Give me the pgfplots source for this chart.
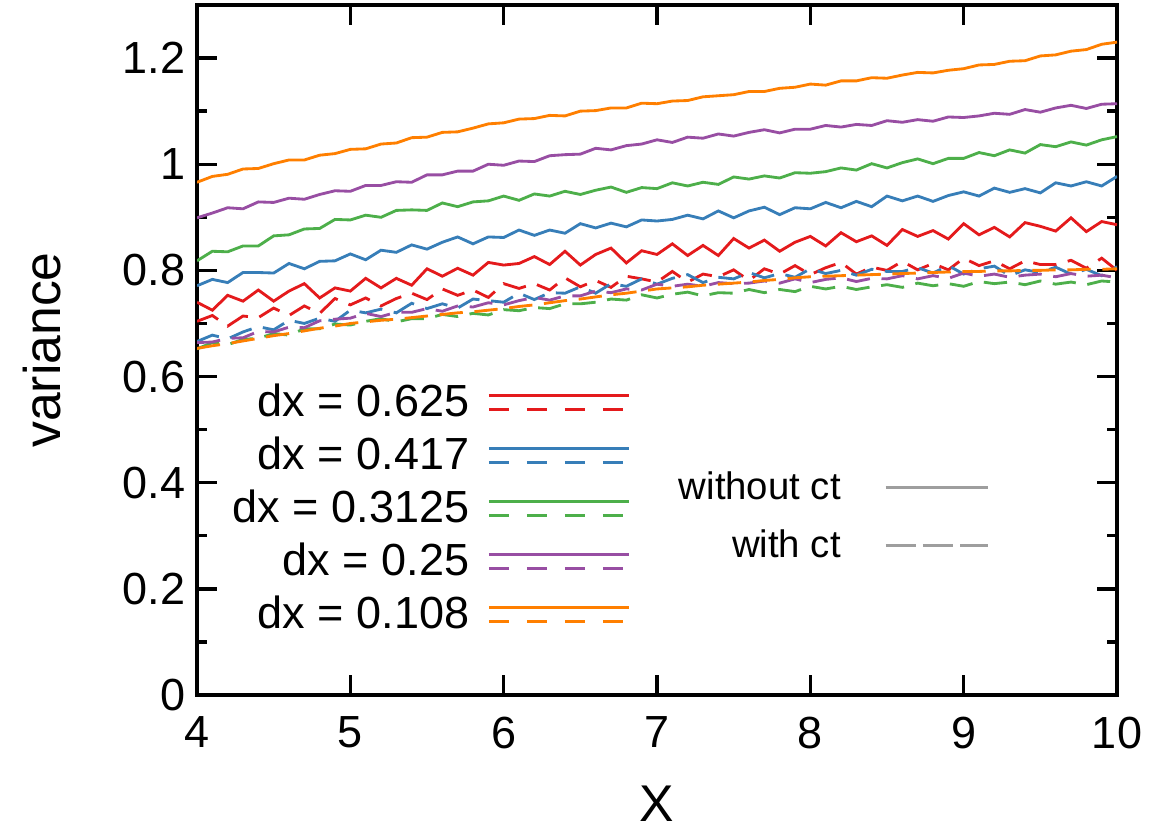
\documentclass[border=0pt]{standalone}
\usepackage{fontspec}
\setmainfont{Liberation Sans}
\usepackage{pgfplots}
\usepackage{pgfplotstable}
\pgfplotsset{compat=1.18}

\definecolor{cRed}{HTML}{E41A1C}
\definecolor{cBlue}{HTML}{377EB8}
\definecolor{cGreen}{HTML}{4DAF4A}
\definecolor{cPurple}{HTML}{984EA3}
\definecolor{cOrange}{HTML}{FF7F00}
\definecolor{cGray}{HTML}{9E9E9E}

\newcommand{\tickfont}{\fontsize{13.5}{16}\selectfont}
\newcommand{\labelfont}{\fontsize{15.5}{18}\selectfont}
\newcommand{\ctfont}{\fontsize{11.5}{14}\selectfont}

% r = dx 0.625, b = 0.417, g = 0.3125, p = 0.25, o = 0.108; 1 = without ct, 2 = with ct
\pgfplotstableread{
x r1 r2 b1 b2 g1 g2 p1 p2 o1 o2
4.0 0.740 0.704 0.771 0.666 0.818 0.652 0.899 0.664 0.966 0.653
4.1 0.725 0.715 0.783 0.678 0.836 0.664 0.908 0.665 0.977 0.658
4.2 0.753 0.695 0.777 0.671 0.835 0.660 0.918 0.672 0.981 0.662
4.3 0.742 0.714 0.796 0.684 0.846 0.670 0.916 0.673 0.991 0.667
4.4 0.763 0.711 0.796 0.694 0.846 0.672 0.929 0.685 0.992 0.672
4.5 0.742 0.729 0.795 0.688 0.865 0.681 0.928 0.684 1.001 0.677
4.6 0.761 0.715 0.813 0.706 0.867 0.678 0.936 0.693 1.008 0.681
4.7 0.775 0.733 0.803 0.700 0.878 0.690 0.934 0.692 1.008 0.686
4.8 0.748 0.719 0.817 0.710 0.879 0.690 0.943 0.705 1.017 0.691
4.9 0.767 0.747 0.818 0.704 0.896 0.699 0.950 0.708 1.020 0.695
5.0 0.761 0.735 0.831 0.725 0.895 0.697 0.949 0.710 1.028 0.700
5.1 0.785 0.748 0.820 0.720 0.904 0.704 0.960 0.719 1.029 0.703
5.2 0.767 0.733 0.838 0.727 0.900 0.709 0.960 0.713 1.038 0.706
5.3 0.785 0.747 0.834 0.720 0.913 0.703 0.967 0.721 1.040 0.708
5.4 0.772 0.757 0.848 0.738 0.914 0.709 0.966 0.721 1.050 0.711
5.5 0.803 0.745 0.840 0.728 0.913 0.709 0.980 0.728 1.051 0.714
5.6 0.789 0.765 0.853 0.737 0.927 0.717 0.980 0.723 1.060 0.717
5.7 0.804 0.753 0.863 0.729 0.920 0.713 0.987 0.733 1.061 0.720
5.8 0.791 0.763 0.850 0.746 0.929 0.719 0.987 0.731 1.068 0.722
5.9 0.815 0.749 0.863 0.743 0.931 0.716 1.000 0.739 1.076 0.725
6.0 0.810 0.775 0.862 0.740 0.940 0.726 0.998 0.735 1.078 0.728
6.1 0.813 0.766 0.876 0.757 0.932 0.724 1.006 0.743 1.085 0.732
6.2 0.826 0.775 0.866 0.745 0.944 0.730 1.005 0.749 1.086 0.735
6.3 0.811 0.763 0.876 0.758 0.940 0.728 1.016 0.744 1.092 0.739
6.4 0.836 0.786 0.870 0.757 0.949 0.737 1.018 0.752 1.091 0.743
6.5 0.810 0.769 0.888 0.769 0.943 0.737 1.019 0.752 1.100 0.746
6.6 0.830 0.781 0.880 0.757 0.951 0.740 1.030 0.761 1.101 0.750
6.7 0.842 0.768 0.889 0.775 0.957 0.746 1.027 0.758 1.106 0.754
6.8 0.814 0.789 0.882 0.770 0.947 0.744 1.035 0.765 1.106 0.757
6.9 0.837 0.784 0.895 0.784 0.956 0.754 1.038 0.763 1.115 0.761
7.0 0.830 0.778 0.893 0.774 0.954 0.748 1.046 0.774 1.114 0.765
7.1 0.850 0.798 0.896 0.785 0.965 0.755 1.041 0.770 1.119 0.767
7.2 0.828 0.778 0.904 0.792 0.959 0.759 1.051 0.774 1.120 0.769
7.3 0.847 0.793 0.897 0.777 0.966 0.752 1.049 0.770 1.127 0.772
7.4 0.828 0.788 0.912 0.787 0.962 0.758 1.057 0.777 1.129 0.774
7.5 0.860 0.801 0.899 0.784 0.976 0.757 1.053 0.775 1.131 0.776
7.6 0.842 0.781 0.912 0.796 0.972 0.764 1.060 0.776 1.137 0.778
7.7 0.857 0.803 0.919 0.786 0.978 0.758 1.065 0.780 1.137 0.781
7.8 0.836 0.793 0.905 0.794 0.974 0.764 1.059 0.776 1.143 0.783
7.9 0.853 0.809 0.918 0.787 0.984 0.760 1.066 0.784 1.145 0.786
8.0 0.864 0.792 0.916 0.803 0.983 0.770 1.066 0.777 1.151 0.788
8.1 0.846 0.805 0.928 0.794 0.986 0.765 1.073 0.783 1.149 0.789
8.2 0.871 0.815 0.918 0.800 0.993 0.770 1.070 0.786 1.157 0.790
8.3 0.854 0.793 0.930 0.791 0.989 0.764 1.075 0.779 1.157 0.791
8.4 0.865 0.806 0.920 0.802 1.001 0.769 1.073 0.785 1.163 0.792
8.5 0.847 0.800 0.940 0.798 0.993 0.773 1.082 0.784 1.162 0.793
8.6 0.877 0.817 0.931 0.798 1.003 0.768 1.079 0.790 1.168 0.794
8.7 0.864 0.801 0.940 0.805 1.010 0.776 1.084 0.784 1.173 0.795
8.8 0.875 0.813 0.930 0.795 1.001 0.771 1.081 0.790 1.172 0.796
8.9 0.859 0.801 0.941 0.809 1.011 0.775 1.089 0.785 1.177 0.797
9.0 0.888 0.823 0.948 0.793 1.011 0.770 1.088 0.795 1.180 0.798
9.1 0.867 0.809 0.940 0.803 1.022 0.779 1.091 0.789 1.187 0.798
9.2 0.881 0.818 0.955 0.808 1.016 0.775 1.096 0.793 1.188 0.799
9.3 0.863 0.803 0.947 0.790 1.027 0.778 1.094 0.787 1.194 0.799
9.4 0.890 0.818 0.954 0.801 1.021 0.773 1.103 0.791 1.195 0.800
9.5 0.883 0.811 0.946 0.796 1.037 0.780 1.098 0.793 1.204 0.800
9.6 0.874 0.811 0.965 0.806 1.033 0.774 1.106 0.788 1.206 0.801
9.7 0.899 0.819 0.959 0.793 1.042 0.778 1.111 0.794 1.213 0.801
9.8 0.873 0.804 0.967 0.802 1.036 0.773 1.105 0.789 1.216 0.802
9.9 0.892 0.823 0.959 0.790 1.046 0.780 1.113 0.791 1.226 0.802
10.0 0.886 0.800 0.977 0.807 1.052 0.778 1.114 0.786 1.230 0.803
}\vardata

\pgfplotsset{
  dxleg/.style={legend image code/.code={
    \draw[#1, line width=0.9pt] (0pt,2.1pt) -- (42pt,2.1pt);
    \draw[#1, line width=0.9pt, dash pattern=on 6pt off 5.4pt] (0pt,-2.1pt) -- (42pt,-2.1pt);}},
  ctsolid/.style={legend image code/.code={
    \draw[cGray, line width=0.9pt] (0pt,0pt) -- (30.6pt,0pt);}},
  ctdash/.style={legend image code/.code={
    \draw[cGray, line width=0.9pt, dash pattern=on 9pt off 2.2pt] (0pt,0pt) -- (30.6pt,0pt);}},
  wo/.style={line width=0.85pt, solid, forget plot},
  wi/.style={line width=0.85pt, dash pattern=on 7pt off 3.5pt, forget plot},
}

\begin{document}
\begin{tikzpicture}
\begin{axis}[
    width=276pt, height=207pt, scale only axis,
    xmin=4, xmax=10, ymin=0, ymax=1.3,
    xtick={4,5,6,7,8,9,10},
    ytick={0,0.2,0.4,0.6,0.8,1,1.2},
    minor ytick={0.1,0.3,0.5,0.7,0.9,1.1},
    major tick length=6pt, minor tick length=3pt,
    tick style={line width=1pt, black},
    axis line style={line width=1pt},
    ticklabel style={font=\tickfont},
    /pgf/number format/assume math mode=true,
    xticklabel style={yshift=-3pt},
    xlabel={X}, ylabel={variance},
    label style={font=\labelfont, inner sep=2pt},
    xlabel style={at={(axis description cs:0.5,-0.157)}, anchor=center},
    ylabel style={at={(axis description cs:-0.168,0.5)}, anchor=center},
    legend plot pos=right, legend cell align=right,
    legend style={at={(axis cs:6.83,0.60)}, anchor=north east, draw=none, fill=none,
      inner sep=0pt, row sep=0.6pt, column sep=3.4pt, font=\tickfont,
      nodes={inner sep=2pt}},
]
\addplot[wo, cRed] table[x=x, y=r1] {\vardata};
\addplot[wi, cRed] table[x=x, y=r2] {\vardata};
\addplot[wo, cBlue] table[x=x, y=b1] {\vardata};
\addplot[wi, cBlue] table[x=x, y=b2] {\vardata};
\addplot[wo, cGreen] table[x=x, y=g1] {\vardata};
\addplot[wi, cGreen] table[x=x, y=g2] {\vardata};
\addplot[wo, cPurple] table[x=x, y=p1] {\vardata};
\addplot[wi, cPurple] table[x=x, y=p2] {\vardata};
\addplot[wo, cOrange] table[x=x, y=o1] {\vardata};
\addplot[wi, cOrange] table[x=x, y=o2] {\vardata};
\addlegendimage{dxleg=cRed}\addlegendentry{dx = 0.625}
\addlegendimage{dxleg=cBlue}\addlegendentry{dx = 0.417}
\addlegendimage{dxleg=cGreen}\addlegendentry{dx = 0.3125}
\addlegendimage{dxleg=cPurple}\addlegendentry{dx = 0.25}
\addlegendimage{dxleg=cOrange}\addlegendentry{dx = 0.108}
\end{axis}
\begin{axis}[
    width=276pt, height=207pt, scale only axis,
    xmin=4, xmax=10, ymin=0, ymax=1.3, hide axis,
    legend plot pos=right, legend cell align=right,
    legend style={at={(axis cs:9.17,0.435)}, anchor=north east, draw=none, fill=none,
      inner sep=0pt, row sep=3.5pt, column sep=11pt, font=\ctfont,
      nodes={inner sep=2pt}},
]
\addlegendimage{ctsolid}\addlegendentry{without ct}
\addlegendimage{ctdash}\addlegendentry{with ct}
\end{axis}
% page frame with the reference's margins round the axis box
\pgfresetboundingbox
\path ([shift={(-59.1pt,-42pt)}]current axis.south west) rectangle ([shift={(10.2pt,1.5pt)}]current axis.north east);
\end{tikzpicture}
\end{document}
